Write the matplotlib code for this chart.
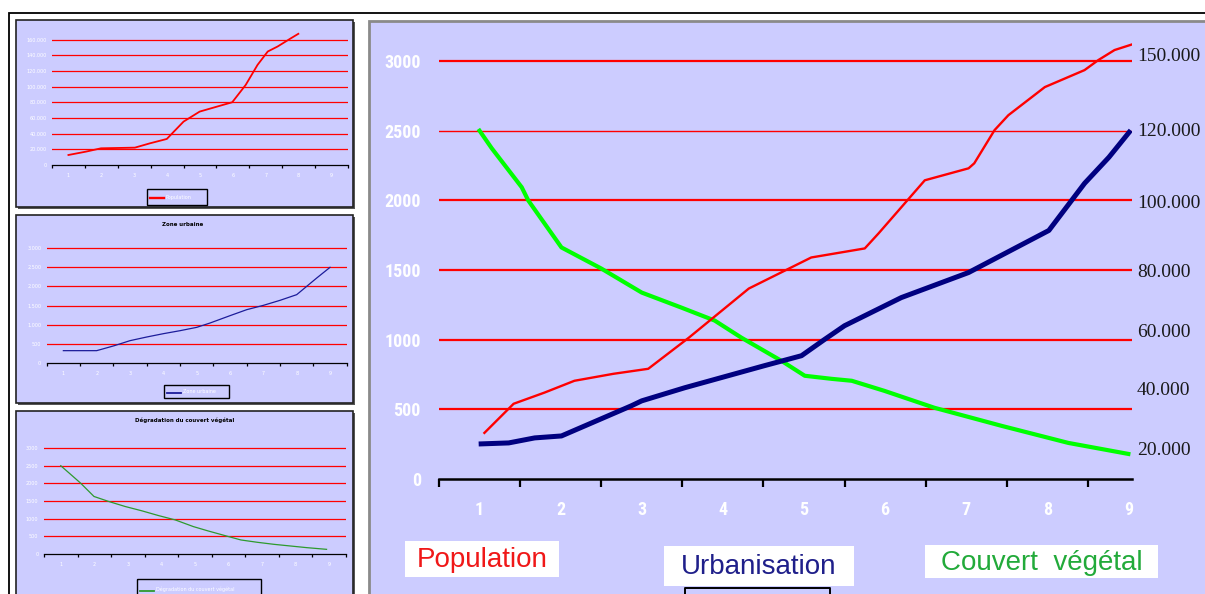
import matplotlib
matplotlib.use("Agg")
import matplotlib.pyplot as plt
from matplotlib.patches import Rectangle
from matplotlib.transforms import blended_transform_factory
from matplotlib import font_manager as fm

# ---------------- data ----------------
categories = [1, 2, 3, 4, 5, 6, 7, 8, 9]

# main chart (left scale 0-3000)
pop_x = [1.06, 1.42, 1.80, 2.17, 2.65, 3.08, 3.58, 4.32, 5.09, 5.75, 5.92, 6.20, 6.49, 7.03, 7.10, 7.35, 7.52, 7.97, 8.46, 8.63, 8.83, 9.06]
pop_v = [331, 540, 620, 705, 755, 791, 1014, 1367, 1590, 1655, 1763, 1950, 2144, 2230, 2266, 2504, 2611, 2813, 2935, 3007, 3079, 3122]

urb_x = [1.02, 1.36, 1.68, 2.01, 2.87, 3.00, 3.53, 4.51, 4.97, 5.25, 5.50, 6.20, 7.03, 8.02, 8.46, 8.76, 9.01]
urb_v = [252, 259, 295, 309, 525, 561, 655, 813, 885, 1000, 1100, 1302, 1482, 1784, 2122, 2309, 2489]

veg_x = [1.00, 1.15, 1.52, 1.60, 2.01, 2.50, 3.00, 3.49, 3.90, 4.23, 4.72, 5.01, 5.34, 5.59, 5.99, 6.61, 7.44, 8.26, 9.00]
veg_v = [2500, 2374, 2094, 2000, 1662, 1511, 1338, 1230, 1137, 1014, 849, 741, 719, 705, 633, 511, 381, 259, 180]

left_ticks = [0, 500, 1000, 1500, 2000, 2500, 3000]
left_labels = ["0", "500", "1000", "1500", "2000", "2500", "3000"]
right_labels = ["150.000", "120.000", "100.000", "80.000", "60.000", "40.000", "20.000"]
right_pos = [3029, 2496, 1978, 1482, 1050, 633, 201]

legend_main = ["Population", "Urbanisation", "Couvert  végétal"]

# small chart 1: population
m1_x = [1.00, 1.53, 1.99, 3.02, 3.48, 3.99, 4.50, 4.99, 5.52, 5.98, 6.39, 6.75, 7.06, 7.36, 7.77, 7.99]
m1_v = [12800, 17067, 21333, 22187, 27733, 33280, 55467, 68267, 74667, 80213, 102400, 128000, 145067, 151467, 162133, 167680]
m1_ticks = [0, 20000, 40000, 60000, 80000, 100000, 120000, 140000, 160000]
m1_labels = ["0", "20.000", "40.000", "60.000", "80.000", "100.000", "120.000", "140.000", "160.000"]

# small chart 2: zone urbaine
m2_x = [1.0, 2.0, 2.53, 3.0, 3.5, 4.0, 4.5, 5.0, 5.4, 6.0, 6.5, 7.0, 7.5, 8.0, 8.3, 8.6, 9.0]
m2_v = [322, 322, 452, 583, 678, 765, 843, 930, 1043, 1235, 1391, 1504, 1635, 1783, 2000, 2217, 2496]
m2_ticks = [0, 500, 1000, 1500, 2000, 2500, 3000]
m2_labels = ["0", "500", "1.000", "1.500", "2.000", "2.500", "3.000"]

# small chart 3: couvert végétal
m3_x = [1.0, 1.25, 1.59, 1.99, 2.43, 2.92, 3.42, 3.91, 4.41, 4.95, 5.39, 5.93, 6.37, 6.86, 7.35, 7.84, 8.33, 8.92]
m3_v = [2498, 2290, 2006, 1628, 1486, 1344, 1221, 1088, 965, 776, 653, 511, 397, 331, 274, 227, 180, 132]
m3_ticks = [0, 500, 1000, 1500, 2000, 2500, 3000]
m3_labels = ["0", "500", "1000", "1500", "2000", "2500", "3000"]

mini_titles = ["", "Zone urbaine", "Dégradation du couvert végétal"]
mini_legends = ["Population", "Zone urbaine", "Dégradation du couvert végétal"]

# ---------------- style ----------------
W, H = 1205, 594
LAV = "#CCCCFF"
GRID = "#FF0000"

names = {f.name for f in fm.fontManager.ttflist}
NARROW = next((n for n in ["Roboto Condensed", "Liberation Sans Narrow", "Open Sans Condensed"] if n in names), "Liberation Sans")

fig = plt.figure(figsize=(W / 100, H / 100), dpi=100)
fig.patch.set_facecolor("white")

bg = fig.add_axes([0, 0, 1, 1])
bg.set_xlim(0, W)
bg.set_ylim(H, 0)
bg.axis("off")


def ax_px(x0, y0, x1, y1):
    a = fig.add_axes([x0 / W, 1 - y1 / H, (x1 - x0) / W, (y1 - y0) / H])
    a.set_facecolor("none")
    return a


# outer frame
bg.plot([9, 9, W + 5], [H + 5, 13, 13], color="black", lw=1.3, solid_joinstyle="miter")

# small panels
for (y0, y1) in [(20, 207), (215, 403), (411, 610)]:
    bg.add_patch(Rectangle((18, y0 + 2), 337, y1 - y0, facecolor="#555555", edgecolor="none"))
    bg.add_patch(Rectangle((16, y0), 337, y1 - y0, facecolor=LAV, edgecolor="#222222", lw=1.2))

# main panel
bg.add_patch(Rectangle((369, 21), 860, 600, facecolor=LAV, edgecolor="#8a8a8a", lw=2.0))


def mini(axpos, xs, vs, color, lw, ticks, labels, ymax, title, legend, legbox, tpos):
    a = ax_px(*axpos)
    a.set_xlim(0.5, 9.5)
    a.set_ylim(0, ymax)
    for t in ticks[1:]:
        a.axhline(t, color=GRID, lw=0.9, zorder=1)
    a.plot(xs, vs, color=color, lw=lw, zorder=3)
    for s in ["top", "right", "left"]:
        a.spines[s].set_visible(False)
    a.spines["bottom"].set_linewidth(0.9)
    a.set_xticks(categories)
    a.set_xticklabels([str(c) for c in categories], color="white", fontsize=3.5)
    a.set_xticks([c - 0.5 for c in categories] + [9.5], minor=True)
    a.tick_params(axis="x", which="major", length=0, pad=6)
    a.tick_params(axis="x", which="minor", length=2, width=0.9)
    a.set_yticks(ticks)
    a.set_yticklabels(labels, color="white", fontsize=3.5)
    a.tick_params(axis="y", length=0, pad=4)
    if title:
        bg.text(tpos[0], tpos[1], title, fontsize=4, color="black", ha="center", va="center", fontweight="bold")
    x0, y0, x1, y1 = legbox
    bg.add_patch(Rectangle((x0, y0), x1 - x0, y1 - y0, facecolor="none", edgecolor="black", lw=1.0))
    bg.plot([x0 + 3, x0 + 17], [(y0 + y1) / 2 + 1] * 2, color=color, lw=lw + 0.4)
    bg.text(x0 + 19, (y0 + y1) / 2, legend, fontsize=3.5, color="white", va="center", ha="left")
    return a


mini((52, 32, 348, 165), m1_x, m1_v, "#FF0000", 1.3, m1_ticks, m1_labels, 170000, mini_titles[0], mini_legends[0], (147, 189, 207, 205), None)
mini((46.7, 240, 346.7, 363), m2_x, m2_v, "#1C1C9A", 0.9, m2_ticks, m2_labels, 3209, mini_titles[1], mini_legends[1], (164, 385, 229, 398), (183, 224))
mini((44, 440, 346, 554), m3_x, m3_v, "#2E9A2E", 0.9, m3_ticks, m3_labels, 3226, mini_titles[2], mini_legends[2], (137, 579, 261, 600), (185, 420))

# ---------------- main chart ----------------
ax = ax_px(439, 40, 1132, 479)
ax.set_xlim(0.5, 9.045)
ax.set_ylim(0, 3151)
for t in left_ticks[1:]:
    ax.axhline(t, color=GRID, lw=1.0 if t == 2500 else 1.6, zorder=1)
ax.plot(veg_x, veg_v, color="#00FF00", lw=3.0, zorder=3, solid_joinstyle="round")
ax.plot(urb_x, urb_v, color="#000080", lw=3.6, zorder=4, solid_joinstyle="round")
ax.plot(pop_x, pop_v, color="#FF0000", lw=1.7, zorder=5, solid_joinstyle="round")

for s in ["top", "right", "left"]:
    ax.spines[s].set_visible(False)
ax.spines["bottom"].set_linewidth(1.8)
ax.spines["bottom"].set_color("black")
ax.set_xticks(categories)
ax.set_xticklabels([str(c) for c in categories], color="white", fontsize=13, family=NARROW, fontweight="bold")
ax.set_xticks([c - 0.5 for c in categories], minor=True)
ax.tick_params(axis="x", which="major", length=0, pad=16)
ax.tick_params(axis="x", which="minor", length=6, width=1.6, color="black")
ax.set_yticks(left_ticks)
ax.set_yticklabels(left_labels, color="white", fontsize=13, family=NARROW, fontweight="bold")
ax.tick_params(axis="y", length=0, pad=13)

tr = blended_transform_factory(ax.transAxes, ax.transData)
for lab, pos in zip(right_labels, right_pos):
    ax.text(1.0 + 5 / 693, pos, lab, transform=tr, ha="left", va="center",
            fontsize=14, color="#1a1a1a", family="Liberation Serif", clip_on=False)

# main legend boxes
leg_boxes = [(405, 541, 559, 577), (664, 546, 854, 586), (925, 545, 1158, 578)]
leg_colors = ["#F01818", "#1F1F8A", "#22AA3A"]
for lab, (x0, y0, x1, y1), col in zip(legend_main, leg_boxes, leg_colors):
    bg.add_patch(Rectangle((x0, y0), x1 - x0, y1 - y0, facecolor="white", edgecolor="none"))
    bg.text((x0 + x1) / 2, (y0 + y1) / 2 + 1, lab, color=col, fontsize=20,
            family="Liberation Sans", ha="center", va="center")

# partial underlying legend frame below "Urbanisation"
bg.plot([685, 685, 830, 830], [600, 588, 588, 600], color="black", lw=1.4)

fig.savefig("out.png", dpi=100, facecolor="white")
